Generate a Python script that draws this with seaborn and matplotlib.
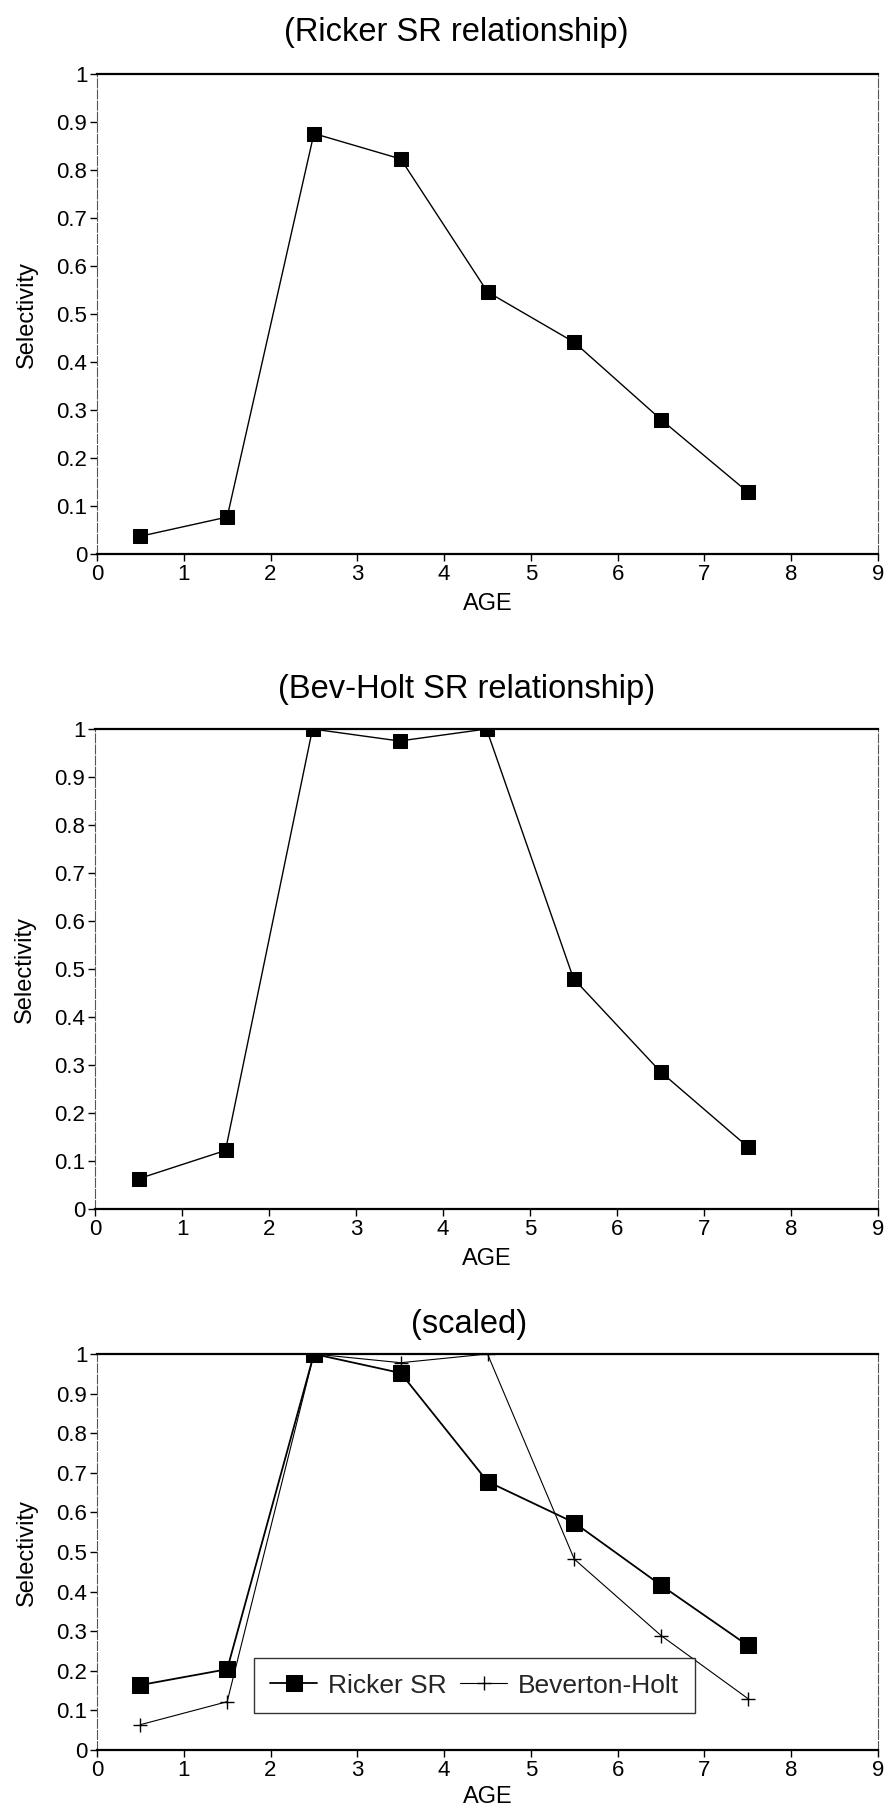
import matplotlib
matplotlib.use("Agg")
import matplotlib.pyplot as plt
import seaborn as sns
import pandas as pd

sns.set_theme(style="white")
plt.rcParams['font.family'] = ['Liberation Sans', 'DejaVu Sans']

ages = [0.5, 1.5, 2.5, 3.5, 4.5, 5.5, 6.5, 7.5]
ricker = [0.037, 0.077, 0.876, 0.823, 0.546, 0.441, 0.280, 0.129]
bevholt = [0.063, 0.122, 1.0, 0.975, 1.0, 0.480, 0.286, 0.130]
ricker_scaled = [0.164, 0.204, 1.0, 0.952, 0.678, 0.574, 0.416, 0.264]
bevholt_scaled = [0.064, 0.122, 1.0, 0.978, 1.0, 0.482, 0.289, 0.130]

titles = ["(Ricker SR relationship)", "(Bev-Holt SR relationship)", "(scaled)"]
xticks = list(range(0, 10))
yticks = [0, 0.1, 0.2, 0.3, 0.4, 0.5, 0.6, 0.7, 0.8, 0.9, 1]
ytick_labels = ["0", "0.1", "0.2", "0.3", "0.4", "0.5", "0.6", "0.7", "0.8", "0.9", "1"]

W, H = 891, 1819
fig = plt.figure(figsize=(W / 100, H / 100), dpi=100)

def px_axes(left, top, right, bottom):
    return fig.add_axes([left / W, 1 - bottom / H, (right - left) / W, (bottom - top) / H])

ax1 = px_axes(97, 74, 878, 554)
ax2 = px_axes(95, 729, 878, 1209)
ax3 = px_axes(97, 1354, 878, 1750)

def style(ax, title, pad, tx, xlabelpad):
    ax.set_xlim(0, 9)
    ax.set_ylim(0, 1)
    ax.set_xticks(xticks)
    ax.set_xticklabels([str(t) for t in xticks])
    ax.set_yticks(yticks)
    ax.set_yticklabels(ytick_labels)
    ax.tick_params(axis='both', labelsize=16, colors='black', length=5, width=1,
                   direction='out', bottom=True, left=True, pad=2)
    for s in ['top', 'bottom']:
        ax.spines[s].set_color('black')
        ax.spines[s].set_linewidth(1.6)
    for s in ['left', 'right']:
        ax.spines[s].set_color('#555555')
        ax.spines[s].set_linewidth(0.8)
        ax.spines[s].set_linestyle((0, (8, 2)))
    ax.set_xlabel("AGE", fontsize=17, color='black', labelpad=xlabelpad)
    ax.set_ylabel("Selectivity", fontsize=17, color='black', labelpad=13)
    ax.set_title(title, fontsize=23.5, color='black', pad=pad, x=tx)
    ax.grid(False)

sns.lineplot(x=ages, y=ricker, ax=ax1, color='black', marker='s', markersize=10,
             linewidth=1.0, markeredgecolor='black')
style(ax1, titles[0], 24, 0.46, 6)

sns.lineplot(x=ages, y=bevholt, ax=ax2, color='black', marker='s', markersize=10,
             linewidth=1.0, markeredgecolor='black')
style(ax2, titles[1], 22, 0.474, 6)

sns.lineplot(x=ages, y=ricker_scaled, ax=ax3, color='black', marker='s', markersize=11,
             linewidth=1.3, markeredgecolor='black', label="Ricker SR")
sns.lineplot(x=ages, y=bevholt_scaled, ax=ax3, color='black', marker='+', markersize=10,
             linewidth=0.8, markeredgecolor='black', markeredgewidth=1.0, label="Beverton-Holt")
style(ax3, titles[2], 15, 0.476, 4)
leg = ax3.legend(loc='lower left', bbox_to_anchor=(1.81 / 9, 0.0925),
                 ncol=2, fontsize=19, frameon=True, fancybox=False,
                 handlelength=1.8, handletextpad=0.4, columnspacing=0.5, borderaxespad=0,
                 borderpad=0.6)
leg.get_frame().set_edgecolor('black')
leg.get_frame().set_linewidth(1.0)

fig.savefig("out.png", dpi=100, facecolor='white')
